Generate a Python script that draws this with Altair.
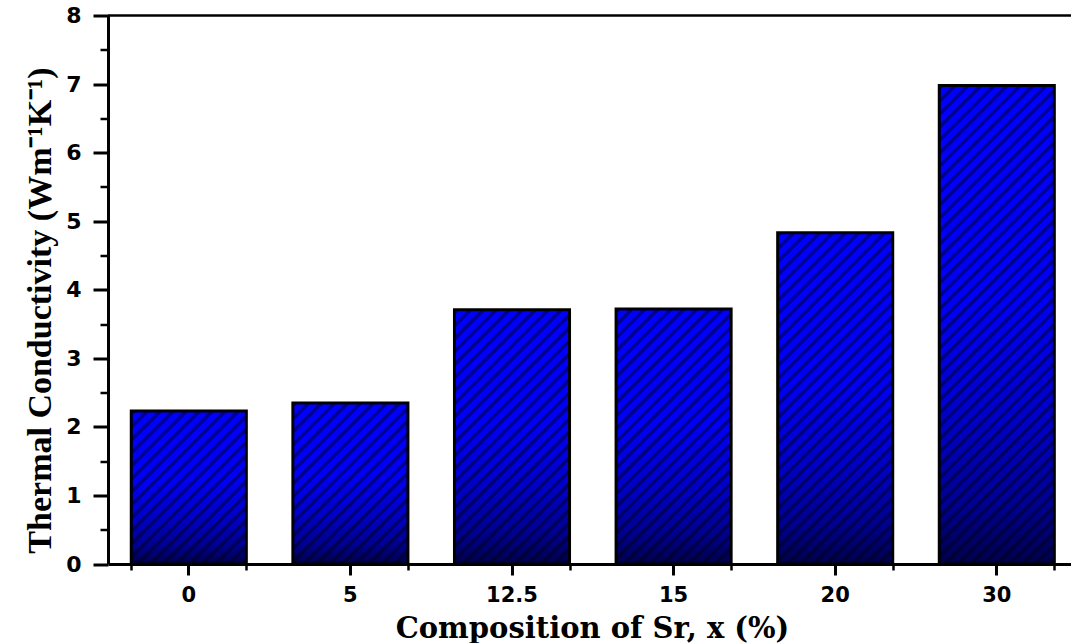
import altair as alt
import pandas as pd

# Sr content of each sample and its measured thermal conductivity
compositions = ["0", "5", "12.5", "15", "20", "30"]
conductivity = [2.23, 2.35, 3.71, 3.72, 4.83, 6.98]

y_major = [0, 1, 2, 3, 4, 5, 6, 7, 8]
y_minor = [0.5, 1.5, 2.5, 3.5, 4.5, 5.5, 6.5, 7.5]

df = pd.DataFrame({"composition": compositions, "k": conductivity})

# plot geometry
PLOT_W = 963
PLOT_H = 548.5
BAND_RANGE = 969.6          # the band scale runs a little past the right edge
PAD_INNER = 0.288
PAD_OUTER = 0.144
Y_MAX = 8

n = len(compositions)
step = BAND_RANGE / (n - PAD_INNER + 2 * PAD_OUTER)
bar_w = step * (1 - PAD_INNER)
px_per_unit = PLOT_H / Y_MAX

x_scale = alt.Scale(range=[0, BAND_RANGE], paddingInner=PAD_INNER, paddingOuter=PAD_OUTER)
y_scale = alt.Scale(domain=[0, Y_MAX], nice=False, zero=True)

# vertical shading of the bars: bright blue on top, navy at the base
shade = alt.LinearGradient(
    gradient="linear",
    x1=0, y1=0, x2=0, y2=1,
    stops=[
        alt.GradientStop(offset=0.0, color="#0000ff"),
        alt.GradientStop(offset=0.45, color="#0000f6"),
        alt.GradientStop(offset=0.70, color="#0000c8"),
        alt.GradientStop(offset=0.88, color="#000090"),
        alt.GradientStop(offset=1.0, color="#00004a"),
    ],
)


def hatch(height_px, period=13.0, line=5.0, ink="rgba(0,0,20,0.45)", clear="rgba(0,0,0,0)"):
    """Diagonal '/' hatching as a striped gradient sized to one bar."""
    w, h = bar_w, max(height_px, 1.0)
    total = w + h
    stops = []
    pos = 0.0
    while pos < total:
        for off, col in ((pos, clear), (pos + 1.2, ink), (pos + line, ink), (pos + line + 1.2, clear)):
            stops.append(alt.GradientStop(offset=min(off / total, 1.0), color=col))
        pos += period
    denom = w * w + h * h
    return alt.LinearGradient(
        gradient="linear",
        x1=0, y1=0, x2=total * w / denom, y2=total * h / denom,
        stops=stops,
    )


x_enc_none = alt.X("composition:N", sort=compositions, scale=x_scale, axis=None)
y_enc_none = alt.Y("k:Q", scale=y_scale, axis=None)

label_font = "DejaVu Sans"
title_font = "DejaVu Serif"

x_axis = alt.Axis(
    title="Composition of Sr, x (%)",
    titleFont=title_font, titleFontSize=29, titleFontWeight="bold", titleColor="black",
    titleX=484, titleY=73, titleBaseline="alphabetic", titleAlign="center",
    labelFont=label_font, labelFontSize=21, labelFontWeight="bold", labelColor="black",
    labelPadding=9, labelAngle=0,
    domainColor="black", domainWidth=3,
    tickColor="black", tickWidth=3, tickSize=11,
    grid=False, orient="bottom",
)
y_axis = alt.Axis(
    title="Thermal Conductivity (Wm⁻¹K⁻¹)",
    titleFont="Liberation Serif", titleFontSize=34, titleFontWeight="bold", titleColor="black",
    titleAngle=-90, titleX=-58, titleY=294.5, titleBaseline="alphabetic", titleAlign="center",
    labelFont=label_font, labelFontSize=22, labelFontWeight="bold", labelColor="black",
    labelPadding=12, values=y_major, format="d",
    domainColor="black", domainWidth=3,
    tickColor="black", tickWidth=3, tickSize=15,
    grid=False, orient="left",
)

base = alt.Chart(df).mark_bar(fill=shade, strokeWidth=0).encode(
    x=alt.X("composition:N", sort=compositions, scale=x_scale, axis=x_axis),
    y=alt.Y("k:Q", scale=y_scale, axis=y_axis),
)

hatch_layers = []
for comp, val in zip(compositions, conductivity):
    hatch_layers.append(
        alt.Chart(df)
        .transform_filter(alt.datum.composition == comp)
        .mark_bar(fill=hatch(val * px_per_unit), strokeWidth=0)
        .encode(x=x_enc_none, y=y_enc_none)
    )

outline = alt.Chart(df).mark_bar(fill="transparent", stroke="black", strokeWidth=3).encode(
    x=x_enc_none, y=y_enc_none
)

# minor ticks: between categories on x, at half units on y
minor = alt.Chart(df).mark_bar(opacity=0).encode(
    x=alt.X(
        "composition:N", sort=compositions, scale=x_scale,
        axis=alt.Axis(tickBand="extent", labels=False, domain=False, ticks=True,
                      tickSize=6, tickWidth=2.5, tickColor="black", title=None,
                      grid=False, orient="bottom"),
    ),
    y=alt.Y(
        "k:Q", scale=y_scale,
        axis=alt.Axis(values=y_minor, labels=False, domain=False, ticks=True,
                      tickSize=8, tickWidth=2.5, tickColor="black", title=None,
                      grid=False, orient="left"),
    ),
)

# top frame line
frame_top = alt.Chart(alt.Data(values=[{}])).mark_rule(color="black", strokeWidth=2.5).encode(
    x=alt.value(0), x2=alt.value(PLOT_W), y=alt.value(0)
)

chart = (
    alt.layer(base, *hatch_layers, outline, minor, frame_top)
    .resolve_axis(x="independent", y="independent")
    .properties(
        width=PLOT_W,
        height=PLOT_H,
        autosize=alt.AutoSizeParams(type="none"),
        padding={"left": 108, "top": 15.5, "right": 0, "bottom": 79},
        background="white",
    )
    .configure_view(stroke=None)
)

chart.save("out.html", embed_options={"renderer": "svg", "actions": False})
